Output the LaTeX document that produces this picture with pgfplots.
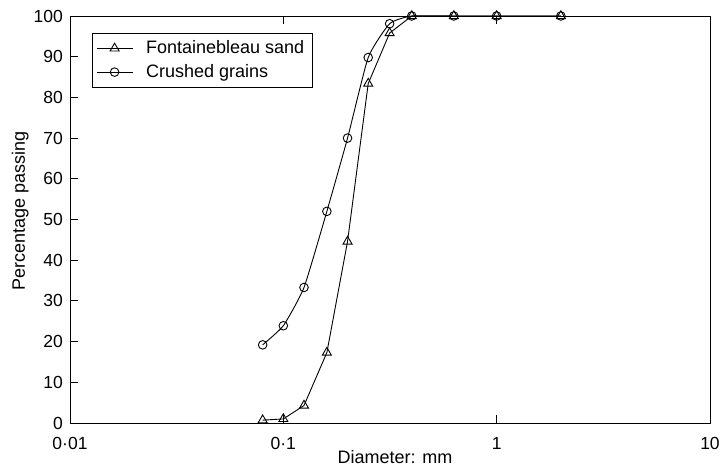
\documentclass[border=0pt]{standalone}
\usepackage{fontspec}
\setmainfont{Liberation Sans}
\usepackage{pgfplots}
\pgfplotsset{compat=1.18}
\begin{document}
\fontsize{18}{21}\selectfont
\begin{tikzpicture}
\begin{axis}[name=ax,
  xmode=log, xmin=0.01, xmax=10, ymin=0, ymax=100,
  width=640pt, height=407pt, scale only axis,
  xtick={0.01,0.1,1,10}, xticklabels={0·01,0·1,1,10},
  ytick={0,10,...,100},
  xminorticks=false, yminorticks=false,
  tick align=inside, major tick length=8pt,
  xtick pos=both, ytick pos=left,
  axis line style={line width=0.9pt},
  every tick/.style={black, line width=0.9pt},
  /pgf/number format/assume math mode=true,
  tick label style={font=\fontsize{17.5}{20}\selectfont},
  yticklabel style={anchor=east, inner xsep=0pt, xshift=-7pt},
  xticklabel style={anchor=north, inner ysep=0pt, yshift=-14pt},
  xlabel={Diameter: mm}, ylabel={Percentage passing},
  label style={font=\fontsize{18}{21}\selectfont},
  xlabel style={at={(axis description cs:0.5,0)}, anchor=base, inner ysep=0pt, yshift=-41pt, xshift=5pt},
  ylabel style={at={(axis description cs:0,0.52)}, anchor=base, inner ysep=0pt, yshift=45pt},
  clip=false,
  legend style={at={(0.034,0.958)}, anchor=north west, draw=black, fill=white,
    font=\fontsize{18}{21}\selectfont, row sep=4pt, inner xsep=4pt, inner ysep=5pt, line width=0.8pt,
    nodes={inner xsep=4pt},
    /tikz/every odd column/.append style={column sep=9pt}},
  legend cell align=left,
  legend image code/.code={\draw[mark repeat=2,mark phase=2,#1] plot coordinates {(0pt,0pt) (18pt,0pt) (36pt,0pt)};},
]
\addplot[black, line width=0.9pt, mark=triangle, mark size=5.2pt, mark options={fill=white, line width=0.9pt}] coordinates {(0.08,0.7)(0.1,1)(0.125,4.3)(0.16,17.3)(0.2,44.6)(0.25,83.4)(0.315,95.8)(0.4,100)(0.63,100)(1,100)(2,100)};
\addlegendentry{Fontainebleau sand}
\addplot[black, line width=0.9pt, smooth, tension=0.3, mark=o, mark size=4.3pt, mark options={fill=white, line width=0.9pt}] coordinates {(0.08,19.2)(0.1,23.9)(0.125,33.3)(0.16,52)(0.2,70)(0.25,89.8)(0.315,98.1)(0.4,100)(0.63,100)(1,100)(2,100)};
\addlegendentry{Crushed grains}
\end{axis}
\pgfresetboundingbox
\path ([shift={(-70pt,-45pt)}]ax.south west) rectangle ([shift={(12pt,16pt)}]ax.north east);
\end{tikzpicture}
\end{document}
